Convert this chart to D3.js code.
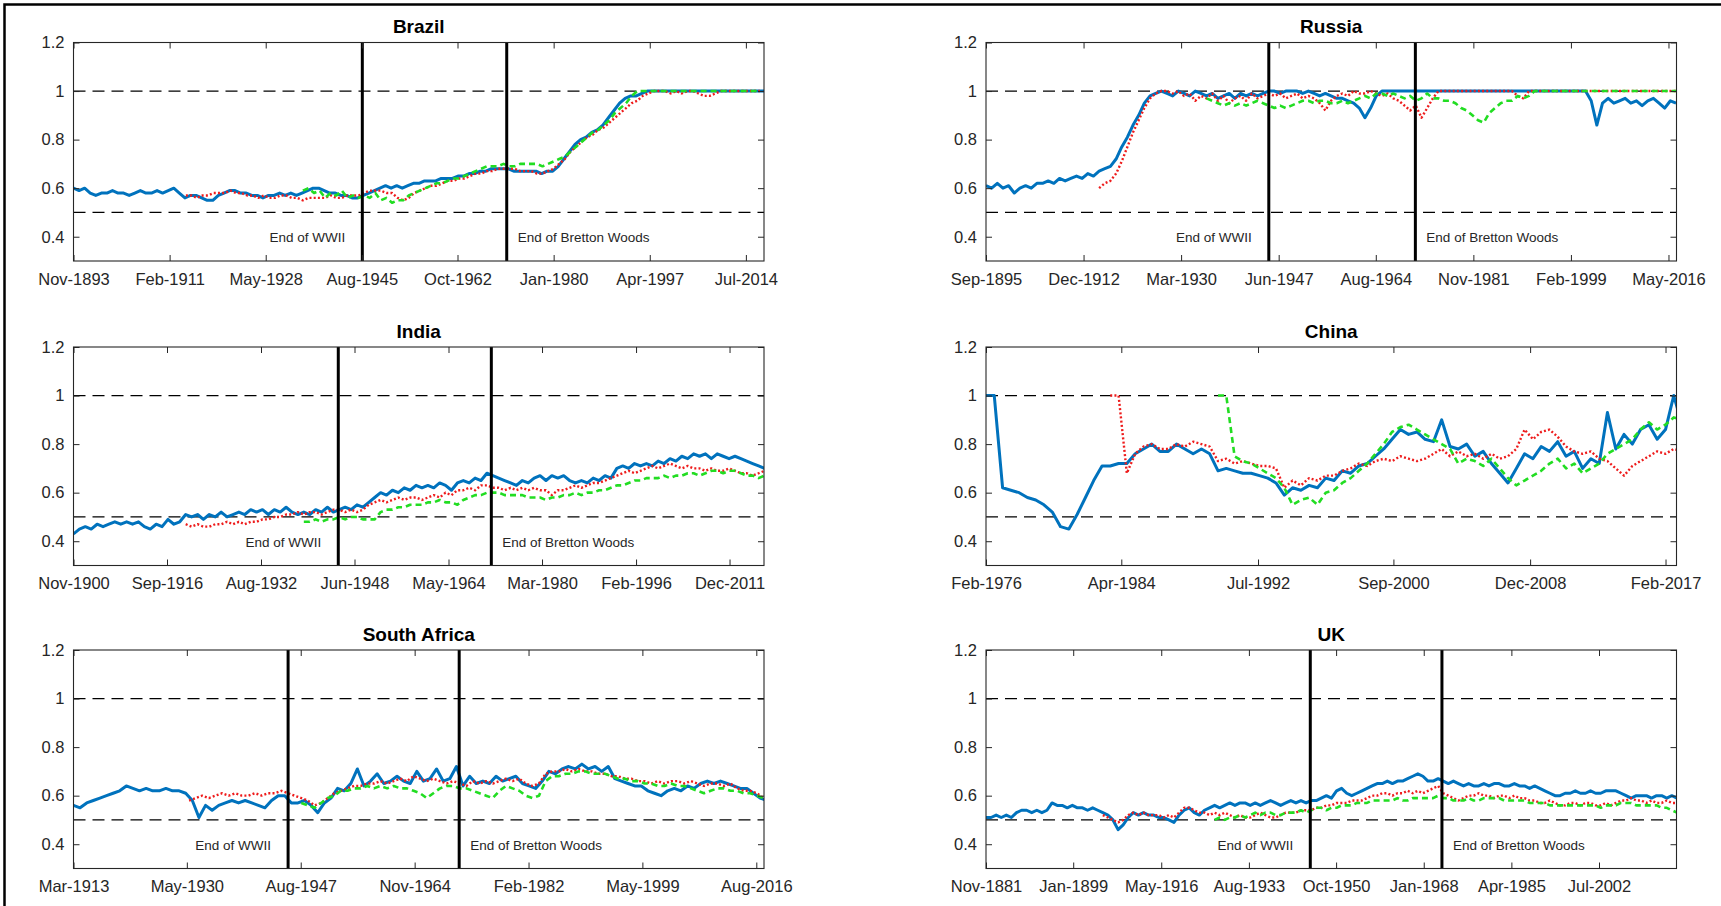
<!DOCTYPE html>
<html>
<head>
<meta charset="utf-8">
<script src="https://cdn.jsdelivr.net/npm/d3@7"></script>
<style>
  body { margin: 0; background: #fff; }
  svg { display: block; font-family: "Liberation Sans", Arial, Helvetica, sans-serif; }
</style>
</head>
<body>
<svg id="chart" width="1721" height="906"></svg>
<script>
// ---- data (yearly samples, China half-yearly) ----
const brazilTicks = ["Nov-1893", "Feb-1911", "May-1928", "Aug-1945", "Oct-1962", "Jan-1980", "Apr-1997", "Jul-2014"];
const brazilStarts = ["Nov-1893", "Jan-1914", "Jan-1935"];
const brazilBlue = [
  0.60,0.59,0.60,0.58,0.57,0.58,0.58,0.59,0.58,0.58,
  0.57,0.58,0.59,0.58,0.58,0.59,0.58,0.59,0.60,0.58,
  0.56,0.57,0.57,0.56,0.55,0.55,0.57,0.58,0.59,0.59,
  0.58,0.58,0.57,0.57,0.56,0.57,0.57,0.58,0.57,0.58,
  0.57,0.58,0.59,0.60,0.60,0.59,0.58,0.58,0.57,0.57,
  0.56,0.56,0.57,0.58,0.59,0.60,0.61,0.60,0.61,0.60,
  0.61,0.62,0.62,0.63,0.63,0.63,0.64,0.64,0.64,0.65,
  0.65,0.66,0.66,0.67,0.67,0.68,0.68,0.68,0.68,0.67,
  0.67,0.67,0.67,0.67,0.66,0.67,0.67,0.69,0.72,0.75,
  0.78,0.80,0.81,0.83,0.84,0.86,0.89,0.92,0.95,0.97,
  0.98,0.98,0.99,1.00,1.00,1.00,1.00,1.00,1.00,1.00,
  1.00,1.00,1.00,1.00,1.00,1.00,1.00,1.00,1.00,1.00,
  1.00,1.00,1.00,1.00,1.00];
const brazilRed = [
  0.57,0.57,0.56,0.57,0.57,0.58,0.58,0.58,0.59,0.58,
  0.58,0.57,0.57,0.56,0.57,0.56,0.56,0.57,0.57,0.56,
  0.56,0.55,0.56,0.56,0.56,0.56,0.57,0.56,0.56,0.57,
  0.57,0.57,0.58,0.59,0.59,0.59,0.58,0.58,0.56,0.55,
  0.56,0.58,0.59,0.60,0.61,0.61,0.62,0.63,0.63,0.64,
  0.64,0.65,0.66,0.66,0.67,0.67,0.68,0.68,0.68,0.68,
  0.67,0.67,0.67,0.66,0.66,0.67,0.68,0.70,0.72,0.75,
  0.77,0.79,0.81,0.82,0.84,0.85,0.87,0.89,0.91,0.93,
  0.95,0.96,0.98,0.99,1.00,1.00,1.00,0.99,1.00,0.99,
  1.00,1.00,0.99,0.98,0.98,0.99,1.00,1.00,1.00,1.00,
  1.00,1.00,1.00,1.00];
const brazilGreen = [
  0.59,0.60,0.58,0.59,0.56,0.58,0.57,0.59,0.56,0.57,
  0.56,0.57,0.56,0.58,0.55,0.56,0.54,0.55,0.55,0.57,
  0.58,0.59,0.60,0.61,0.62,0.62,0.63,0.64,0.64,0.65,
  0.66,0.67,0.68,0.69,0.69,0.69,0.70,0.69,0.69,0.70,
  0.70,0.70,0.70,0.69,0.70,0.71,0.72,0.73,0.75,0.77,
  0.79,0.81,0.83,0.84,0.86,0.88,0.91,0.93,0.95,0.98,
  1.00,1.00,1.00,1.00,1.00,1.00,1.00,1.00,1.00,1.00,
  1.00,1.00,1.00,1.00,1.00,1.00,1.00,1.00,1.00,1.00,
  1.00,1.00,1.00];

const russiaTicks = ["Sep-1895", "Dec-1912", "Mar-1930", "Jun-1947", "Aug-1964", "Nov-1981", "Feb-1999", "May-2016"];
const russiaStarts = ["Sep-1895", "Sep-1915", "Sep-1934"];
const russiaBlue = [
  0.61,0.60,0.62,0.60,0.61,0.58,0.60,0.61,0.60,0.62,
  0.62,0.63,0.62,0.64,0.63,0.64,0.65,0.64,0.66,0.65,
  0.67,0.68,0.69,0.72,0.77,0.81,0.86,0.90,0.95,0.98,
  0.99,1.00,0.99,0.98,1.00,0.99,0.98,1.00,0.99,0.98,
  0.99,0.97,0.98,0.99,0.97,0.99,0.98,0.99,0.98,0.99,
  1.00,1.00,0.99,1.00,1.00,1.00,0.99,1.00,0.99,0.98,
  0.99,0.98,0.97,0.97,0.96,0.95,0.93,0.89,0.93,0.98,
  1.00,1.00,1.00,1.00,1.00,1.00,1.00,1.00,1.00,1.00,
  1.00,1.00,1.00,1.00,1.00,1.00,1.00,1.00,1.00,1.00,
  1.00,1.00,1.00,1.00,1.00,1.00,1.00,1.00,1.00,1.00,
  1.00,1.00,1.00,1.00,1.00,1.00,1.00,
  0.96,0.86,0.95,0.97,0.95,0.96,0.97,0.95,0.96,0.94,
  0.96,0.97,0.95,0.93,0.96,0.95];
const russiaRed = [
  0.60,0.62,0.63,0.66,0.71,0.77,0.83,0.88,0.93,0.97,
  0.99,1.00,1.00,0.99,1.00,0.98,0.99,0.96,0.98,0.97,
  0.99,0.96,0.98,0.95,0.97,0.98,0.96,0.99,0.97,0.98,
  0.99,0.98,0.99,0.97,0.98,0.99,0.97,0.98,0.97,0.95,
  0.92,0.96,0.98,0.99,0.98,1.00,0.99,0.99,1.00,0.99,
  0.98,0.99,0.97,0.96,0.94,0.92,0.94,0.89,0.93,0.97,
  1.00,1.00,1.00,1.00,1.00,1.00,1.00,1.00,1.00,1.00,
  1.00,1.00,1.00,1.00,0.98,0.97,1.00,1.00,1.00,1.00,
  1.00,1.00,1.00,1.00,1.00,1.00,1.00,1.00,1.00,1.00,
  1.00,1.00,1.00,1.00,1.00,1.00,1.00,1.00,1.00,1.00,
  1.00,1.00,1.00];
const russiaGreen = [
  0.97,0.96,0.95,0.94,0.95,0.94,0.95,0.94,0.95,0.96,
  0.95,0.94,0.93,0.94,0.93,0.94,0.95,0.96,0.96,0.95,
  0.96,0.96,0.95,0.95,0.96,0.95,0.96,0.97,0.98,0.97,
  0.99,0.99,0.98,0.99,0.98,0.97,0.98,0.96,0.97,0.99,
  0.97,0.97,0.96,0.96,0.95,0.93,0.92,0.90,0.88,0.87,
  0.91,0.93,0.95,0.96,0.96,0.98,0.97,0.98,1.00,1.00,
  1.00,1.00,1.00,1.00,1.00,1.00,1.00,1.00,1.00,1.00,
  1.00,1.00,1.00,1.00,1.00,1.00,1.00,1.00,1.00,1.00,
  1.00,1.00,1.00,1.00];

const indiaTicks = ["Nov-1900", "Sep-1916", "Aug-1932", "Jun-1948", "May-1964", "Mar-1980", "Feb-1996", "Dec-2011"];
const indiaStarts = ["Nov-1900", "Nov-1919", "Nov-1939"];
const indiaBlue = [
  0.43,0.45,0.46,0.45,0.47,0.46,0.47,0.48,0.47,0.48,
  0.47,0.48,0.46,0.45,0.47,0.46,0.49,0.47,0.48,0.51,
  0.50,0.51,0.49,0.51,0.50,0.52,0.50,0.51,0.52,0.51,
  0.53,0.52,0.53,0.51,0.53,0.52,0.54,0.52,0.51,0.52,
  0.51,0.53,0.52,0.54,0.52,0.53,0.54,0.53,0.55,0.54,
  0.56,0.58,0.60,0.59,0.61,0.60,0.62,0.61,0.63,0.62,
  0.63,0.62,0.64,0.63,0.61,0.64,0.65,0.64,0.66,0.65,
  0.68,0.67,0.66,0.65,0.64,0.63,0.65,0.64,0.66,0.67,
  0.65,0.67,0.66,0.67,0.65,0.64,0.65,0.64,0.66,0.65,
  0.67,0.66,0.70,0.71,0.70,0.72,0.71,0.72,0.71,0.73,
  0.72,0.74,0.73,0.75,0.74,0.76,0.75,0.76,0.74,0.76,
  0.75,0.74,0.75,0.74,0.73,0.72,0.71,0.70];
const indiaRed = [
  0.47,0.46,0.47,0.46,0.46,0.47,0.47,0.48,0.47,0.48,
  0.47,0.48,0.48,0.49,0.49,0.50,0.50,0.51,0.51,0.52,
  0.51,0.52,0.52,0.51,0.52,0.53,0.53,0.52,0.53,0.52,
  0.53,0.55,0.56,0.57,0.56,0.57,0.58,0.57,0.58,0.58,
  0.57,0.58,0.59,0.58,0.60,0.59,0.61,0.61,0.62,0.61,
  0.63,0.63,0.62,0.62,0.61,0.62,0.61,0.62,0.61,0.62,
  0.61,0.61,0.59,0.61,0.61,0.62,0.63,0.62,0.63,0.64,
  0.64,0.65,0.66,0.67,0.68,0.69,0.68,0.69,0.70,0.71,
  0.70,0.71,0.72,0.71,0.70,0.71,0.70,0.70,0.69,0.70,
  0.69,0.69,0.70,0.69,0.68,0.68,0.67,0.68,0.69];
const indiaGreen = [
  0.48,0.48,0.49,0.48,0.49,0.49,0.50,0.49,0.50,0.50,
  0.49,0.49,0.49,0.52,0.53,0.53,0.54,0.54,0.55,0.55,
  0.55,0.56,0.56,0.57,0.56,0.56,0.55,0.57,0.58,0.59,
  0.59,0.60,0.60,0.60,0.59,0.59,0.59,0.59,0.58,0.58,
  0.58,0.57,0.58,0.58,0.59,0.59,0.60,0.59,0.60,0.60,
  0.61,0.61,0.62,0.63,0.63,0.64,0.65,0.65,0.66,0.66,
  0.66,0.67,0.66,0.67,0.67,0.68,0.68,0.67,0.68,0.69,
  0.69,0.68,0.69,0.69,0.68,0.67,0.67,0.66,0.67];

const chinaTicks = ["Feb-1976", "Apr-1984", "Jul-1992", "Sep-2000", "Dec-2008", "Feb-2017"];
const chinaStarts = ["Feb-1976", "Aug-1983", "Feb-1990"];
const chinaBlue = [
  1.00,1.00,0.62,0.61,0.60,0.58,0.57,0.55,0.52,0.46,
  0.45,0.51,0.58,0.65,0.71,0.71,0.72,0.72,0.76,0.78,
  0.80,0.77,0.77,0.80,0.78,0.76,0.78,0.76,0.69,0.70,
  0.69,0.68,0.68,0.67,0.66,0.64,0.59,0.62,0.61,0.63,
  0.62,0.66,0.65,0.69,0.68,0.71,0.72,0.75,0.78,0.82,
  0.86,0.84,0.85,0.82,0.81,0.90,0.79,0.78,0.80,0.75,
  0.77,0.72,0.68,0.64,0.70,0.76,0.74,0.79,0.77,0.81,
  0.75,0.77,0.70,0.74,0.72,0.93,0.78,0.84,0.80,0.86,
  0.88,0.82,0.86,1.00,0.88];
const chinaRed = [
  1.00,1.00,0.68,0.76,0.79,0.80,0.78,0.78,0.80,0.79,
  0.81,0.80,0.79,0.73,0.74,0.72,0.73,0.72,0.71,0.71,
  0.70,0.62,0.65,0.63,0.66,0.65,0.67,0.67,0.69,0.70,
  0.72,0.71,0.73,0.74,0.73,0.75,0.74,0.73,0.74,0.76,
  0.78,0.75,0.77,0.75,0.76,0.74,0.76,0.74,0.75,0.78,
  0.86,0.82,0.85,0.86,0.83,0.79,0.77,0.76,0.77,0.74,
  0.73,0.70,0.67,0.71,0.73,0.75,0.77,0.76,0.78,0.77];
const chinaGreen = [
  1.00,1.00,0.75,0.73,0.72,0.70,0.68,0.66,0.62,0.55,
  0.57,0.58,0.55,0.60,0.61,0.64,0.66,0.69,0.72,0.76,
  0.80,0.85,0.87,0.88,0.86,0.84,0.82,0.80,0.78,0.72,
  0.74,0.73,0.71,0.74,0.70,0.66,0.63,0.65,0.67,0.69,
  0.72,0.74,0.70,0.72,0.68,0.70,0.72,0.76,0.78,0.80,
  0.82,0.86,0.89,0.86,0.88,0.91,0.90];

const safricaTicks = ["Mar-1913", "May-1930", "Aug-1947", "Nov-1964", "Feb-1982", "May-1999", "Aug-2016"];
const safricaStarts = ["Mar-1913", "Sep-1930", "Sep-1947"];
const safricaBlue = [
  0.56,0.55,0.57,0.58,0.59,0.60,0.61,0.62,0.64,0.63,
  0.62,0.63,0.62,0.62,0.63,0.62,0.62,0.61,0.58,0.51,
  0.56,0.54,0.56,0.57,0.58,0.57,0.58,0.57,0.56,0.55,
  0.58,0.60,0.60,0.57,0.57,0.58,0.56,0.53,0.57,0.59,
  0.63,0.62,0.65,0.71,0.64,0.66,0.69,0.65,0.66,0.68,
  0.66,0.65,0.70,0.66,0.67,0.71,0.66,0.67,0.72,0.64,
  0.68,0.65,0.66,0.65,0.68,0.66,0.67,0.68,0.65,0.64,
  0.63,0.66,0.70,0.69,0.71,0.72,0.71,0.73,0.71,0.72,
  0.70,0.72,0.67,0.66,0.65,0.64,0.64,0.62,0.61,0.60,
  0.62,0.63,0.62,0.64,0.63,0.65,0.66,0.65,0.66,0.65,
  0.64,0.63,0.63,0.61,0.59,0.58];
const safricaRed = [
  0.58,0.59,0.60,0.59,0.60,0.61,0.60,0.61,0.60,0.60,
  0.61,0.60,0.61,0.61,0.62,0.61,0.60,0.59,0.58,0.56,
  0.57,0.59,0.61,0.62,0.63,0.64,0.64,0.65,0.65,0.66,
  0.65,0.66,0.67,0.66,0.68,0.67,0.66,0.67,0.66,0.65,
  0.66,0.65,0.64,0.66,0.65,0.66,0.65,0.66,0.67,0.66,
  0.67,0.65,0.64,0.65,0.69,0.70,0.70,0.71,0.70,0.71,
  0.70,0.70,0.69,0.69,0.68,0.68,0.67,0.67,0.66,0.66,
  0.65,0.66,0.65,0.66,0.66,0.65,0.66,0.65,0.64,0.65,
  0.65,0.64,0.65,0.63,0.62,0.62,0.61,0.59];
const safricaGreen = [
  0.57,0.56,0.55,0.57,0.59,0.60,0.62,0.62,0.63,0.63,
  0.64,0.63,0.64,0.63,0.64,0.63,0.63,0.62,0.61,0.59,
  0.61,0.63,0.64,0.64,0.63,0.63,0.62,0.61,0.60,0.59,
  0.62,0.64,0.63,0.62,0.60,0.59,0.60,0.66,0.68,0.68,
  0.69,0.69,0.70,0.70,0.69,0.69,0.69,0.68,0.67,0.67,
  0.66,0.66,0.65,0.65,0.64,0.64,0.65,0.64,0.64,0.63,
  0.62,0.61,0.62,0.63,0.63,0.62,0.62,0.61,0.61,0.60,
  0.59];

const ukTicks = ["Nov-1881", "Jan-1899", "May-1916", "Aug-1933", "Oct-1950", "Jan-1968", "Apr-1985", "Jul-2002"];
const ukStarts = ["Nov-1881", "Nov-1904", "Nov-1926"];
const ukBlue = [
  0.51,0.51,0.52,0.51,0.52,0.51,0.53,0.54,0.54,0.53,
  0.54,0.53,0.54,0.57,0.56,0.56,0.55,0.56,0.55,0.55,
  0.54,0.55,0.54,0.53,0.52,0.50,0.46,0.48,0.51,0.53,
  0.52,0.53,0.52,0.52,0.51,0.51,0.50,0.49,0.52,0.54,
  0.55,0.53,0.52,0.54,0.55,0.56,0.55,0.56,0.57,0.56,
  0.57,0.57,0.56,0.57,0.56,0.57,0.58,0.57,0.56,0.57,
  0.58,0.57,0.58,0.57,0.58,0.58,0.59,0.60,0.59,0.62,
  0.63,0.61,0.60,0.61,0.62,0.63,0.64,0.65,0.65,0.66,
  0.65,0.66,0.66,0.67,0.68,0.69,0.68,0.66,0.66,0.67,
  0.66,0.65,0.66,0.65,0.64,0.65,0.64,0.64,0.65,0.64,
  0.65,0.65,0.64,0.64,0.65,0.64,0.64,0.63,0.64,0.63,
  0.62,0.61,0.60,0.60,0.61,0.61,0.62,0.61,0.61,0.62,
  0.61,0.61,0.62,0.62,0.62,0.61,0.60,0.59,0.60,0.60,
  0.60,0.59,0.60,0.60,0.59,0.60,0.59];
const ukRed = [
  0.52,0.51,0.50,0.49,0.50,0.52,0.53,0.52,0.53,0.52,
  0.52,0.52,0.51,0.52,0.51,0.53,0.55,0.55,0.54,0.53,
  0.53,0.52,0.53,0.52,0.53,0.52,0.51,0.52,0.51,0.51,
  0.52,0.53,0.52,0.51,0.51,0.52,0.53,0.53,0.53,0.54,
  0.54,0.54,0.55,0.55,0.56,0.56,0.57,0.57,0.57,0.58,
  0.58,0.58,0.59,0.60,0.60,0.61,0.61,0.60,0.61,0.61,
  0.62,0.61,0.62,0.61,0.62,0.63,0.64,0.61,0.60,0.59,
  0.58,0.59,0.60,0.60,0.61,0.60,0.60,0.59,0.60,0.60,
  0.59,0.60,0.59,0.59,0.58,0.58,0.57,0.57,0.58,0.57,
  0.56,0.56,0.57,0.57,0.56,0.57,0.57,0.56,0.56,0.57,
  0.56,0.57,0.58,0.58,0.59,0.58,0.58,0.57,0.58,0.57,
  0.57,0.58,0.57,0.57];
const ukGreen = [
  0.50,0.51,0.50,0.51,0.51,0.52,0.51,0.52,0.53,0.52,
  0.53,0.53,0.52,0.52,0.53,0.53,0.53,0.54,0.53,0.54,
  0.55,0.55,0.54,0.55,0.55,0.56,0.56,0.56,0.57,0.57,
  0.57,0.58,0.58,0.58,0.58,0.58,0.59,0.58,0.58,0.59,
  0.59,0.59,0.59,0.59,0.60,0.59,0.59,0.58,0.58,0.58,
  0.59,0.58,0.58,0.59,0.59,0.59,0.59,0.58,0.58,0.58,
  0.58,0.58,0.57,0.57,0.57,0.57,0.56,0.56,0.56,0.56,
  0.56,0.56,0.56,0.56,0.56,0.56,0.55,0.56,0.56,0.56,
  0.57,0.57,0.57,0.56,0.56,0.56,0.56,0.56,0.55,0.55,
  0.54,0.53];

const domainEnd = "Oct-2017";
const yTicks = [0.4, 0.6, 0.8, 1, 1.2];
const refLevels = [1, 0.5];
const eventDates = ["Sep-1945", "Aug-1971"];
const eventLabels = ["End of WWII", "End of Bretton Woods"];

const panels = [
  { title: "Brazil", ticks: brazilTicks, starts: brazilStarts, series: [brazilBlue, brazilRed, brazilGreen], step: 12, events: true },
  { title: "Russia", ticks: russiaTicks, starts: russiaStarts, series: [russiaBlue, russiaRed, russiaGreen], step: 12, events: true },
  { title: "India", ticks: indiaTicks, starts: indiaStarts, series: [indiaBlue, indiaRed, indiaGreen], step: 12, events: true },
  { title: "China", ticks: chinaTicks, starts: chinaStarts, series: [chinaBlue, chinaRed, chinaGreen], step: 6, events: false },
  { title: "South Africa", ticks: safricaTicks, starts: safricaStarts, series: [safricaBlue, safricaRed, safricaGreen], step: 12, events: true },
  { title: "UK", ticks: ukTicks, starts: ukStarts, series: [ukBlue, ukRed, ukGreen], step: 12, events: true }
];

// ---- styles / layout ----
const lineStyles = [
  { color: "#0072BD", width: 3, dash: null },
  { color: "#EE1C1C", width: 2.4, dash: "2,2.2" },
  { color: "#22DD22", width: 2.6, dash: "6,4" }
];
const axisColor = "#262626";
const font = '"Liberation Sans", Arial, Helvetica, sans-serif';
const colX = [73.5, 986];
const rowY = [42.5, 347, 650];
const plotW = 690.5, plotH = 218.5;

const parseMonth = d3.timeParse("%b-%Y");
const fmtMonth = d3.timeFormat("%b-%Y");

const svg = d3.select("#chart");
svg.append("rect").attr("width", 1721).attr("height", 906).attr("fill", "#fff");

// outer frame (top and left edges of the screenshot)
svg.append("path")
  .attr("d", "M4.5,906V4.5H1721")
  .attr("fill", "none")
  .attr("stroke", "#000")
  .attr("stroke-width", 2.5);

panels.forEach((p, i) => {
  const g = svg.append("g")
    .attr("transform", `translate(${colX[i % 2]},${rowY[Math.floor(i / 2)]})`);

  const x = d3.scaleTime()
    .domain([parseMonth(p.ticks[0]), parseMonth(domainEnd)])
    .range([0, plotW]);
  const y = d3.scaleLinear().domain([0.3, 1.2]).range([plotH, 0]);

  g.append("clipPath").attr("id", "clip" + i)
    .append("rect").attr("width", plotW).attr("height", plotH);

  // reference levels
  g.selectAll(".ref").data(refLevels).join("line")
    .attr("x1", 0).attr("x2", plotW)
    .attr("y1", d => y(d)).attr("y2", d => y(d))
    .attr("stroke", "#000").attr("stroke-width", 1.3)
    .attr("stroke-dasharray", "12,7");

  // series
  const line = d3.line().x(d => x(d[0])).y(d => y(d[1]));
  const plot = g.append("g").attr("clip-path", `url(#clip${i})`);
  p.series.forEach((vals, s) => {
    const start = parseMonth(p.starts[s]);
    const pts = vals.map((v, k) => [d3.timeMonth.offset(start, k * p.step), v]);
    const st = lineStyles[s];
    plot.append("path")
      .datum(pts)
      .attr("d", line)
      .attr("fill", "none")
      .attr("stroke", st.color)
      .attr("stroke-width", st.width)
      .attr("stroke-linejoin", "round")
      .attr("stroke-dasharray", st.dash);
  });

  // event markers
  if (p.events) {
    eventDates.forEach((ds, e) => {
      const ex = x(parseMonth(ds));
      g.append("line")
        .attr("x1", ex).attr("x2", ex).attr("y1", 0).attr("y2", plotH)
        .attr("stroke", "#000").attr("stroke-width", 3);
      g.append("text")
        .attr("x", e === 0 ? ex - 17 : ex + 11)
        .attr("y", y(0.395))
        .attr("dominant-baseline", "central")
        .attr("text-anchor", e === 0 ? "end" : "start")
        .attr("font-family", font)
        .attr("font-size", 13.5)
        .attr("fill", axisColor)
        .text(eventLabels[e]);
    });
  }

  // axes (MATLAB style: inward ticks on all sides)
  const tickDates = p.ticks.map(parseMonth);
  const styleAxis = sel => {
    sel.attr("font-family", font).attr("font-size", 16.5).attr("color", axisColor);
    sel.select(".domain").remove();
  };
  g.append("g").attr("transform", `translate(0,${plotH})`)
    .call(d3.axisBottom(x).tickValues(tickDates).tickFormat(fmtMonth)
      .tickSizeInner(-6).tickSizeOuter(0).tickPadding(12))
    .call(styleAxis);
  g.append("g")
    .call(d3.axisTop(x).tickValues(tickDates).tickFormat("")
      .tickSizeInner(-6).tickSizeOuter(0))
    .call(styleAxis);
  g.append("g")
    .call(d3.axisLeft(y).tickValues(yTicks).tickFormat(d => String(d))
      .tickSizeInner(-6).tickSizeOuter(0).tickPadding(9))
    .call(styleAxis);
  g.append("g").attr("transform", `translate(${plotW},0)`)
    .call(d3.axisRight(y).tickValues(yTicks).tickFormat("")
      .tickSizeInner(-6).tickSizeOuter(0))
    .call(styleAxis);

  g.append("rect")
    .attr("width", plotW).attr("height", plotH)
    .attr("fill", "none").attr("stroke", axisColor).attr("stroke-width", 1.1);

  g.append("text")
    .attr("x", plotW / 2).attr("y", -9.5)
    .attr("text-anchor", "middle")
    .attr("font-family", font)
    .attr("font-size", 19)
    .attr("font-weight", "bold")
    .attr("fill", "#000")
    .text(p.title);
});
</script>
</body>
</html>
